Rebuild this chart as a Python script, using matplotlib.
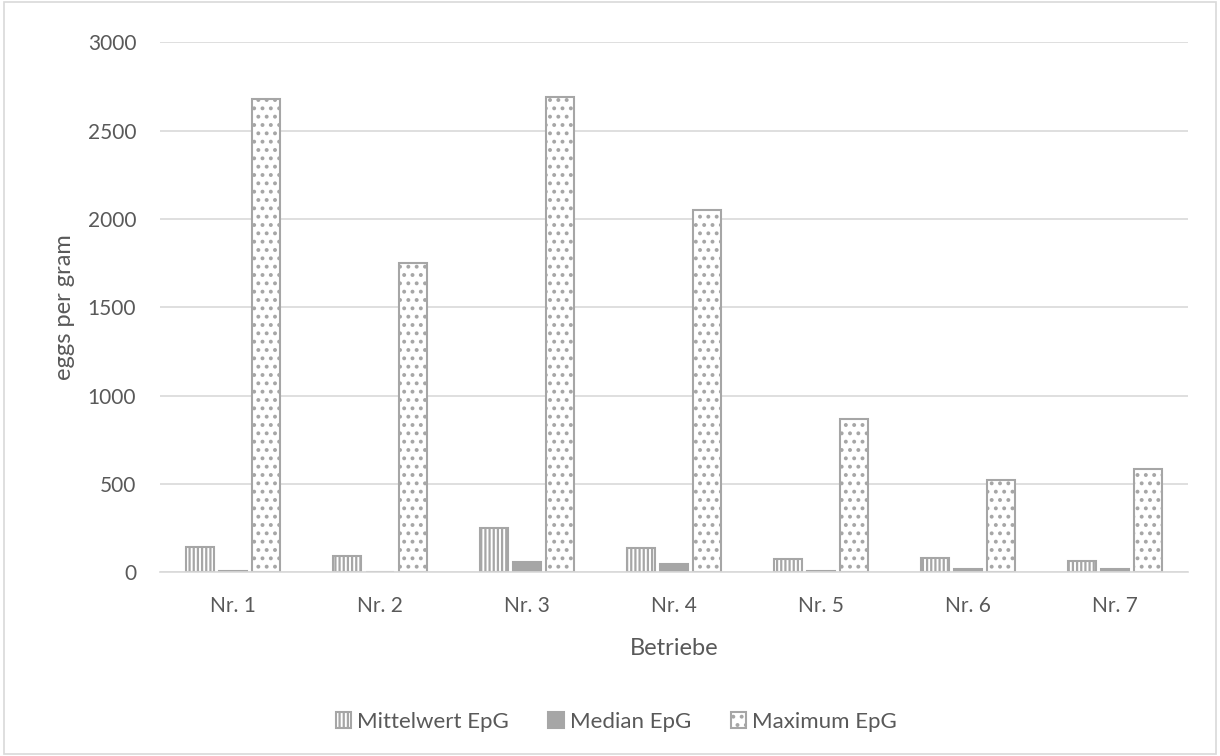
import numpy as np
import matplotlib.pyplot as plt
from matplotlib.patches import Rectangle

plt.rcParams['font.family'] = ['Lato', 'DejaVu Sans']
plt.rcParams['hatch.linewidth'] = 1.6

betriebe = ['Nr. 1', 'Nr. 2', 'Nr. 3', 'Nr. 4', 'Nr. 5', 'Nr. 6', 'Nr. 7']
mittelwert = [145, 90, 250, 140, 75, 80, 65]
median = [10, 0, 60, 45, 10, 20, 20]
maximum = [2680, 1750, 2690, 2050, 870, 525, 585]

fig = plt.figure(figsize=(12.2, 7.56), dpi=100)
ax = fig.add_axes([0.131, 0.243, 0.843, 0.701])

x = np.arange(len(betriebe))
w = 0.19
step = 0.225
grey = '#a6a6a6'
txt = '#595959'

ax.bar(x - step, mittelwert, w, facecolor='white', edgecolor=grey, hatch='||||', linewidth=1.5, label='Mittelwert EpG')
ax.bar(x, median, w, facecolor=grey, edgecolor=grey, linewidth=1.5, label='Median EpG')
ax.bar(x + step, maximum, w, facecolor='white', edgecolor=grey, hatch='..', linewidth=1.5, label='Maximum EpG')

ax.set_ylim(0, 3000)
ax.set_xlim(-0.5, len(betriebe) - 0.5)
ax.set_yticks(range(0, 3001, 500))
ax.set_xticks(x)
ax.set_xticklabels(betriebe)
ax.yaxis.grid(True, color='#d9d9d9', linewidth=1.2)
ax.set_axisbelow(True)
for s in ['top', 'right', 'left']:
    ax.spines[s].set_visible(False)
ax.spines['bottom'].set_color('#d9d9d9')
ax.spines['bottom'].set_linewidth(1.2)
ax.tick_params(length=0, labelsize=15, labelcolor=txt)
ax.tick_params(axis='x', pad=17)
ax.tick_params(axis='y', pad=17)

ax.set_xlabel('Betriebe', fontsize=17, color=txt, labelpad=16)
ax.set_ylabel('eggs per gram', fontsize=17, color=txt, labelpad=9)

fig.legend(loc='center', bbox_to_anchor=(0.505, 0.045), ncol=3, frameon=False,
           fontsize=16, labelcolor=txt, handlelength=0.7, handleheight=0.7,
           handletextpad=0.25, columnspacing=1.8)

fig.patches.append(Rectangle((0.003, 0.003), 0.994, 0.994, transform=fig.transFigure,
                             fill=False, edgecolor='#d9d9d9', linewidth=1.2))

fig.savefig('out.png', dpi=100)
